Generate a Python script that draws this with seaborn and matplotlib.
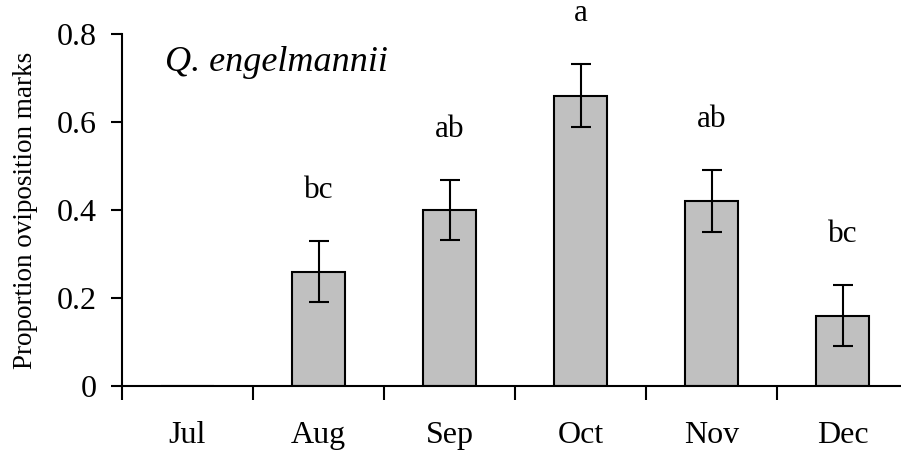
import matplotlib
matplotlib.use("Agg")
import matplotlib.pyplot as plt
import numpy as np
import pandas as pd
import seaborn as sns

# data
months = ["Jul", "Aug", "Sep", "Oct", "Nov", "Dec"]
proportion = [0.0, 0.26, 0.40, 0.66, 0.42, 0.16]
se = [np.nan, 0.07, 0.068, 0.072, 0.07, 0.07]
letters = ["", "bc", "ab", "a", "ab", "bc"]
y_ticks = [0, 0.2, 0.4, 0.6, 0.8]
y_tick_labels = ["0", "0.2", "0.4", "0.6", "0.8"]
species = "Q. engelmannii"

sns.set_style("ticks", {"axes.edgecolor": "black", "text.color": "black",
                        "axes.labelcolor": "black", "xtick.color": "black",
                        "ytick.color": "black"})
plt.rcParams["font.family"] = ["Liberation Serif", "DejaVu Serif"]

df = pd.DataFrame({"month": months, "prop": proportion, "se": se})

fig = plt.figure(figsize=(9.01, 4.5), dpi=100)
ax = fig.add_axes([0.1354, 0.1422, 0.8724, 0.7822])

sns.barplot(data=df, x="month", y="prop", color="#c0c0c0", edgecolor="black",
            linewidth=1.5, width=0.4, saturation=1, errorbar=None, ax=ax)

x = np.arange(len(months))
ax.errorbar(x, df["prop"], yerr=df["se"], fmt="none", ecolor="black",
            elinewidth=1.5, capsize=7.5, capthick=1.5)

# significance letters above the error bars
for xi, p, s, lab in zip(x, proportion, se, letters):
    if lab:
        ax.text(xi, p + s + 0.115, lab, ha="center", va="center",
                fontsize=22.5, color="black", clip_on=False)

ax.text(0.055, 0.92, species, fontsize=26, style="italic", va="center",
        ha="left", color="black", transform=ax.transAxes)

ax.set_xlim(-0.5, len(months) - 0.5)
ax.set_ylim(0, 0.8)
ax.set_yticks(y_ticks)
ax.set_yticklabels(y_tick_labels)

# ticks at the category boundaries, labels at the centres
ax.set_xticks(np.arange(len(months) + 1) - 0.5)
ax.set_xticklabels([])
ax.set_xticks(x, minor=True)
ax.set_xticklabels(months, minor=True)
ax.tick_params(axis="x", which="major", length=10, width=1.5, direction="out")
ax.tick_params(axis="x", which="minor", length=0, pad=25, labelsize=23)
ax.tick_params(axis="y", length=8, width=1.5, direction="out", pad=10, labelsize=23)

ax.set_xlabel("")
ax.set_ylabel("Proportion oviposition marks", fontsize=19.5, labelpad=14)

for side in ["top", "right"]:
    ax.spines[side].set_visible(False)
for side in ["left", "bottom"]:
    ax.spines[side].set_linewidth(1.5)

fig.savefig("out.png", dpi=100)
